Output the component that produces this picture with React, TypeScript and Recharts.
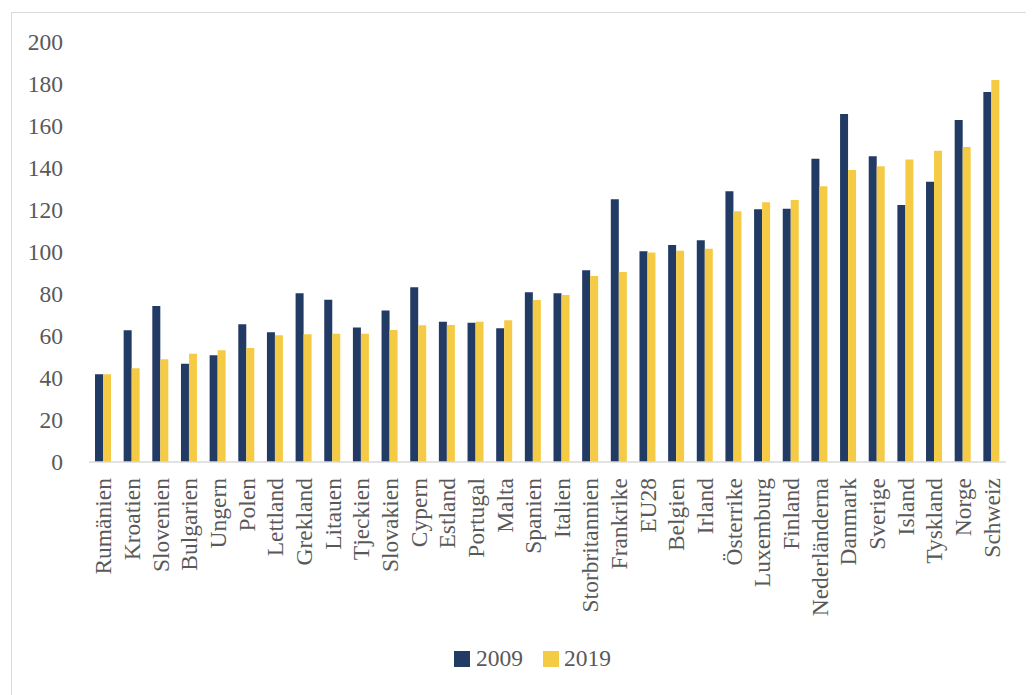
import { BarChart, Bar, XAxis, YAxis, Legend } from 'recharts'

const countries = [
	'Rumänien', 'Kroatien', 'Slovenien', 'Bulgarien', 'Ungern', 'Polen', 'Lettland', 'Grekland',
	'Litauen', 'Tjeckien', 'Slovakien', 'Cypern', 'Estland', 'Portugal', 'Malta', 'Spanien',
	'Italien', 'Storbritannien', 'Frankrike', 'EU28', 'Belgien', 'Irland', 'Österrike', 'Luxemburg',
	'Finland', 'Nederländerna', 'Danmark', 'Sverige', 'Island', 'Tyskland', 'Norge', 'Schweiz',
]

const values2009 = [
	41.8, 62.7, 74.3, 46.8, 50.8, 65.6, 61.8, 80.3,
	77.3, 64.1, 72.2, 83.2, 66.8, 66.3, 63.7, 80.8,
	80.3, 91.3, 125.1, 100.3, 103.3, 105.6, 128.9, 120.3,
	120.6, 144.4, 165.7, 145.6, 122.4, 133.5, 162.9, 176.2,
]

const values2019 = [
	41.8, 44.6, 48.9, 51.6, 53.2, 54.3, 60.3, 60.8,
	61.1, 61.1, 62.9, 65.1, 65.2, 66.8, 67.5, 77.1,
	79.5, 88.6, 90.5, 99.8, 100.6, 101.6, 119.4, 123.7,
	124.8, 131.3, 139.0, 140.8, 144.1, 148.2, 150.0, 181.9,
]

const yTicks = [0, 20, 40, 60, 80, 100, 120, 140, 160, 180, 200]

const data = countries.map((name, i) => ({
	name,
	v2009: values2009[i],
	v2019: values2019[i],
}))

const FONT = '"Liberation Serif", "Times New Roman", serif'
const NAVY = '#223B65'
const YELLOW = '#F5CB46'
const TEXT = '#595959'

const RotatedTick = (props: any) => {
	const { x, y, payload } = props
	return (
		<text
			x={x}
			y={y}
			transform={`rotate(-90, ${x}, ${y})`}
			textAnchor='end'
			dominantBaseline='central'
			fill={TEXT}
			fontSize={23.5}
			fontFamily={FONT}
		>
			{payload.value}
		</text>
	)
}

const LegendBox = () => (
	<div style={{ display: 'flex', alignItems: 'center', fontFamily: FONT, fontSize: 23.5, color: TEXT }}>
		<span style={{ width: 16, height: 16, background: NAVY, display: 'inline-block', marginRight: 6 }} />
		<span style={{ marginRight: 20 }}>2009</span>
		<span style={{ width: 16, height: 16, background: YELLOW, display: 'inline-block', marginRight: 5 }} />
		<span>2019</span>
	</div>
)

const App = () => {
	return (
		<div style={{ position: 'relative', width: 1026, height: 687, overflow: 'hidden' }}>
			<div
				style={{
					position: 'absolute',
					left: 3,
					top: 4,
					width: 1100,
					height: 800,
					border: '1.5px solid #d9d9d9',
				}}
			/>
			<BarChart
				width={1026}
				height={687}
				data={data}
				margin={{ top: 34, right: 28, left: 21, bottom: 83 }}
				barGap={0}
				style={{ position: 'absolute', left: 0, top: 0 }}
			>
				<XAxis
					dataKey='name'
					interval={0}
					height={150}
					tick={<RotatedTick />}
					tickLine={false}
					tickSize={6}
					tickMargin={10}
					axisLine={{ stroke: '#d9d9d9', strokeWidth: 1.5 }}
				/>
				<YAxis
					domain={[0, 200]}
					ticks={yTicks}
					width={60}
					axisLine={false}
					tickLine={false}
					tickMargin={20}
					tick={{ fill: TEXT, fontSize: 23.5, fontFamily: FONT }}
				/>
				<Legend
					layout='horizontal'
					verticalAlign='middle'
					align='center'
					content={<LegendBox />}
					wrapperStyle={{ position: 'absolute', left: 446, top: 637, width: 'auto' }}
				/>
				<Bar dataKey='v2009' name='2009' fill={NAVY} barSize={8} isAnimationActive={false} />
				<Bar dataKey='v2019' name='2019' fill={YELLOW} barSize={8} isAnimationActive={false} />
			</BarChart>
		</div>
	)
}

export default App
